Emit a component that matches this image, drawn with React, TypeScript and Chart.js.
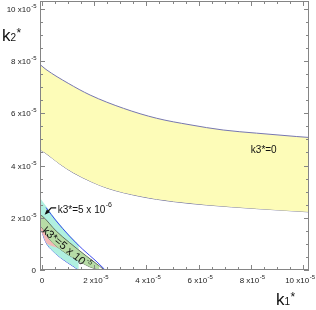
import { useEffect, useRef } from 'react';
import { Chart, registerables } from 'chart.js';

Chart.register(...registerables);

// All values in units of 1e-5
const EXPONENT = '-5';
const xTickValues = [0, 2, 4, 6, 8, 10];
const yTickValues = [0, 2, 4, 6, 8, 10];
const xTickMantissas = ['0', '2 x10', '4 x10', '6 x10', '8 x10', '10 x10'];
const yTickMantissas = ['0', '2 x10', '4 x10', '6 x10', '8 x10', '10 x10'];
const MINOR_STEP = 0.5;

// Band k3* = 0
const k0UpperX = [-0.08, 0.15, 1.0, 1.84, 3.12, 4.39, 5.67, 6.94, 8.22, 9.76, 10.3];
const k0UpperY = [7.87, 7.68, 7.15, 6.7, 6.19, 5.81, 5.56, 5.36, 5.24, 5.11, 5.07];
const k0LowerX = [-0.08, 0.11, 0.69, 1.2, 1.84, 2.48, 3.75, 5.03, 6.31, 8.22, 10.3];
const k0LowerY = [4.6, 4.49, 4.05, 3.72, 3.4, 3.14, 2.82, 2.62, 2.49, 2.35, 2.22];

// Band k3* = 5e-6 (cyan)
const k6UpperX = [-0.15, 0.15, 0.54, 1.05, 1.56, 2.07, 2.42];
const k6UpperY = [2.85, 2.45, 1.92, 1.33, 0.82, 0.36, 0.0];
const k6EdgeX = [0.15, 0.54, 1.05, 1.56, 2.07, 2.39];
const k6EdgeY = [2.39, 1.88, 1.3, 0.79, 0.34, 0.03];
const k6LowerX = [-0.1, 0.15, 0.41, 0.79, 1.18, 1.4];
const k6LowerY = [1.75, 1.05, 0.73, 0.41, 0.15, 0.0];

// pink sliver
const pinkUpperX = [-0.1, 0.0, 0.28, 0.6];
const pinkUpperY = [1.66, 1.62, 1.18, 0.88];
const pinkLowerX = [-0.1, 0.05, 0.15, 0.3, 0.6];
const pinkLowerY = [1.6, 1.3, 1.05, 0.95, 0.85];

// Band k3* = 5e-5 (green)
const k5UpperX = [-0.1, 0.0, 0.54, 1.05, 1.69, 2.2, 2.38];
const k5UpperY = [2.12, 2.07, 1.49, 1.05, 0.54, 0.15, 0.0];
const k5LowerX = [-0.1, 0.0, 0.28, 0.79, 1.3, 1.81, 2.2];
const k5LowerY = [1.7, 1.62, 1.18, 0.73, 0.41, 0.13, 0.0];

const FONT = '"Liberation Sans", Arial, sans-serif';

const pts = (xs: number[], ys: number[]) => xs.map((x, i) => ({ x, y: ys[i] }));

function drawSup(
  ctx: CanvasRenderingContext2D,
  main: string,
  sup: string,
  x: number,
  y: number,
  align: 'left' | 'center' | 'right' | 'main-center',
  size: number,
  supSize: number,
  rise: number,
  maxRight = Infinity
) {
  const mf = `${size}px ${FONT}`;
  const sf = `${supSize}px ${FONT}`;
  ctx.font = mf;
  const wm = ctx.measureText(main).width;
  ctx.font = sf;
  const ws = sup ? ctx.measureText(sup).width : 0;
  const total = wm + ws;
  let x0 = x;
  if (align === 'center') x0 = x - total / 2;
  else if (align === 'right') x0 = x - total;
  else if (align === 'main-center') x0 = x - wm / 2 - ws / 4;
  if (x0 + total + 0.5 > maxRight) x0 = maxRight - total - 0.5;
  ctx.textAlign = 'left';
  ctx.textBaseline = 'alphabetic';
  ctx.font = mf;
  ctx.fillText(main, x0, y);
  if (sup) {
    ctx.font = sf;
    ctx.fillText(sup, x0 + wm + 0.5, y - rise);
  }
}

const framePlugin = {
  id: 'frame',
  afterDraw(chart: any) {
    const { ctx, chartArea: a } = chart;
    const xs = chart.scales.x;
    const ys = chart.scales.y;
    ctx.save();
    // frame
    ctx.strokeStyle = '#858585';
    ctx.lineWidth = 1;
    ctx.strokeRect(a.left + 0.5, a.top + 0.5, a.right - a.left - 1, a.bottom - a.top - 1);
    // ticks
    ctx.beginPath();
    for (let v = 0; v <= 10.001; v += MINOR_STEP) {
      const major = Math.abs(v / 2 - Math.round(v / 2)) < 1e-6;
      const len = major ? 5 : 3;
      const px = Math.round(xs.getPixelForValue(v)) + 0.5;
      ctx.moveTo(px, a.bottom);
      ctx.lineTo(px, a.bottom - len);
      ctx.moveTo(px, a.top);
      ctx.lineTo(px, a.top + len);
      const py = Math.round(ys.getPixelForValue(v)) + 0.5;
      ctx.moveTo(a.left, py);
      ctx.lineTo(a.left + len, py);
      ctx.moveTo(a.right, py);
      ctx.lineTo(a.right - len, py);
    }
    ctx.stroke();

    ctx.fillStyle = '#222';
    // y tick labels
    yTickValues.forEach((v, i) => {
      const py = ys.getPixelForValue(v);
      const m = yTickMantissas[i];
      drawSup(ctx, m, m === '0' ? '' : EXPONENT, a.left - 4, py + 3, 'right', 8, 6, 4);
    });
    // x tick labels
    xTickValues.forEach((v, i) => {
      const px = xs.getPixelForValue(v);
      const m = xTickMantissas[i];
      drawSup(ctx, m, m === '0' ? '' : EXPONENT, px, a.bottom + 13, 'main-center', 8, 6, 4, chart.width - 1);
    });

    // axis titles
    ctx.fillStyle = '#111';
    ctx.textAlign = 'left';
    ctx.textBaseline = 'alphabetic';
    const title = (x: number, y: number, sub: string) => {
      ctx.font = `17px ${FONT}`;
      ctx.fillText('k', x, y);
      const wk = ctx.measureText('k').width;
      ctx.font = `10px ${FONT}`;
      ctx.fillText(sub, x + wk, y);
      const w2 = ctx.measureText(sub).width;
      ctx.font = `12px ${FONT}`;
      ctx.fillText('*', x + wk + w2 + 0.5, y - 4);
    };
    title(2, 41, '2');
    title(276, 305, '1');

    // annotations
    ctx.fillStyle = '#111';
    drawSup(ctx, 'k3*=0', '', xs.getPixelForValue(8.0), ys.getPixelForValue(4.48), 'left', 10, 7, 5);
    drawSup(ctx, 'k3*=5 x 10', '-6', xs.getPixelForValue(0.6), ys.getPixelForValue(2.2), 'left', 10, 7, 6);

    // arrow: short horizontal stroke then diagonal to head
    const tx = xs.getPixelForValue(0.54), ty = ys.getPixelForValue(2.38);
    const bx = xs.getPixelForValue(0.35), by = ys.getPixelForValue(2.38);
    const hx = xs.getPixelForValue(0.15), hy = ys.getPixelForValue(2.17);
    ctx.strokeStyle = '#111';
    ctx.lineWidth = 1.3;
    ctx.beginPath();
    ctx.moveTo(tx, ty);
    ctx.lineTo(bx, by);
    ctx.lineTo(hx, hy);
    ctx.stroke();
    const ang = Math.atan2(hy - by, hx - bx);
    ctx.beginPath();
    ctx.moveTo(hx + Math.cos(ang) * 2, hy + Math.sin(ang) * 2);
    ctx.lineTo(hx - Math.cos(ang - 0.55) * 4, hy - Math.sin(ang - 0.55) * 4);
    ctx.lineTo(hx - Math.cos(ang + 0.55) * 4, hy - Math.sin(ang + 0.55) * 4);
    ctx.closePath();
    ctx.fill();

    // rotated label
    ctx.save();
    ctx.translate(xs.getPixelForValue(0.94), ys.getPixelForValue(0.86));
    ctx.rotate((40 * Math.PI) / 180);
    ctx.font = `11px ${FONT}`;
    const wm = ctx.measureText('k3*=5 x 10').width;
    ctx.font = `7px ${FONT}`;
    const ws = ctx.measureText('-5').width;
    drawSup(ctx, 'k3*=5 x 10', '-5', -(wm + ws) / 2, 4, 'left', 11, 7, 6);
    ctx.restore();

    ctx.restore();
  },
};

export default function App() {
  const ref = useRef<HTMLCanvasElement | null>(null);
  useEffect(() => {
    if (!ref.current) return;
    const clear = 'rgba(0,0,0,0)';
    const chart = new Chart(ref.current, {
      type: 'line',
      data: {
        datasets: [
          { data: pts(k0UpperX, k0UpperY), borderColor: '#7676b0', borderWidth: 1, backgroundColor: '#fdfcb8', fill: 1, order: 6 },
          { data: pts(k0LowerX, k0LowerY), borderColor: '#6e6e9c', borderWidth: 1, fill: false, order: 6 },
          { data: pts(k6UpperX, k6UpperY), borderColor: clear, borderWidth: 0, backgroundColor: '#b0f0e0', fill: 3, order: 5 },
          { data: pts(k6LowerX, k6LowerY), borderColor: '#3a48ee', borderWidth: 1, fill: false, order: 5 },
          { data: pts(k6EdgeX, k6EdgeY), borderColor: '#3a48ee', borderWidth: 1, fill: false, order: 4 },
          { data: pts(pinkUpperX, pinkUpperY), borderWidth: 0, borderColor: clear, backgroundColor: '#f3b9b6', fill: 6, order: 3 },
          { data: pts(pinkLowerX, pinkLowerY), borderWidth: 0, borderColor: clear, fill: false, order: 3 },
          { data: pts(k5UpperX, k5UpperY), borderColor: '#607060', borderWidth: 1, backgroundColor: '#b7dca6', fill: 8, order: 2 },
          { data: pts(k5LowerX, k5LowerY), borderColor: '#607060', borderWidth: 1, fill: false, order: 2 },
        ] as any,
      },
      options: {
        responsive: false,
        animation: false,
        events: [],
        layout: { padding: { left: 40, top: 1, right: 7, bottom: 40 } },
        elements: {
          point: { radius: 0 },
          line: { tension: 0.4, cubicInterpolationMode: 'monotone' },
        },
        scales: {
          x: { type: 'linear', min: -0.08, max: 10.23, display: false },
          y: { type: 'linear', min: 0, max: 10.3, display: false },
        },
        plugins: { legend: { display: false }, tooltip: { enabled: false } },
      },
      plugins: [framePlugin],
    });
    return () => chart.destroy();
  }, []);
  return (
    <div style={{ position: 'absolute', left: 0, top: 0, width: 316, height: 310 }}>
      <canvas ref={ref} width={316} height={310} style={{ display: 'block' }} />
    </div>
  );
}
